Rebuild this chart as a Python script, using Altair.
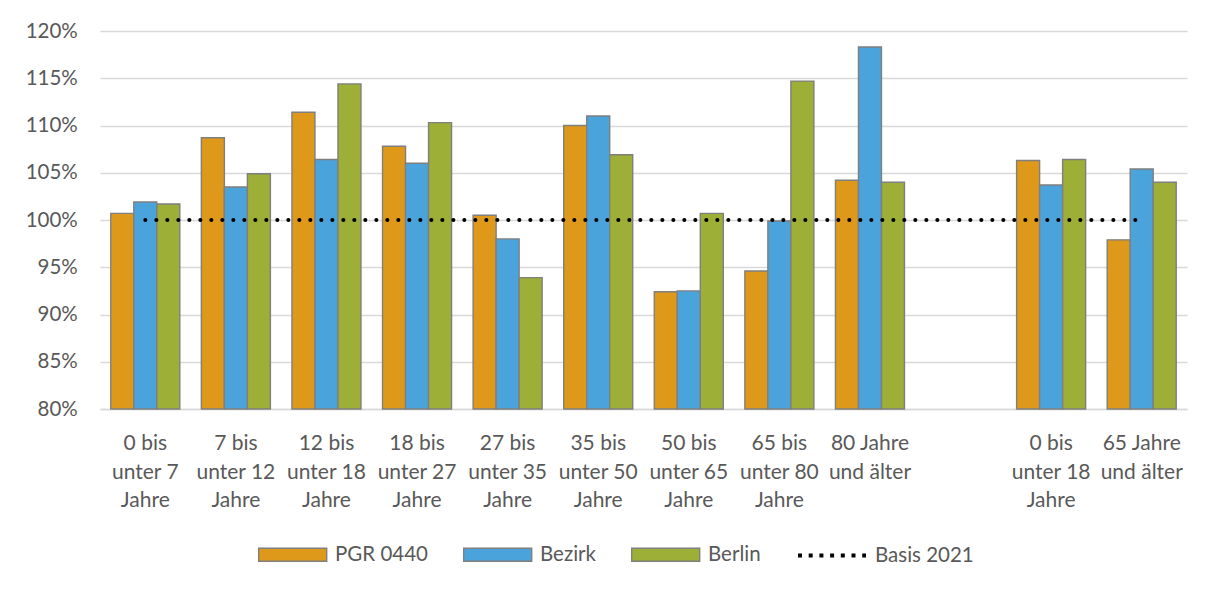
import altair as alt
import pandas as pd

categories = [
    "0 bis\nunter 7\nJahre", "7 bis\nunter 12\nJahre", "12 bis\nunter 18\nJahre",
    "18 bis\nunter 27\nJahre", "27 bis\nunter 35\nJahre", "35 bis\nunter 50\nJahre",
    "50 bis\nunter 65\nJahre", "65 bis\nunter 80\nJahre", "80 Jahre\nund älter",
    " ", "0 bis\nunter 18\nJahre", "65 Jahre\nund älter",
]
series = ["PGR 0440", "Bezirk", "Berlin"]
colors = ["#DE981A", "#4BA3DC", "#9DAF36"]
pgr = [100.7, 108.7, 111.4, 107.8, 100.5, 110.0, 92.4, 94.6, 104.2, None, 106.3, 97.9]
bezirk = [101.9, 103.5, 106.4, 106.0, 98.0, 111.0, 92.5, 99.9, 118.3, None, 103.7, 105.4]
berlin = [101.7, 104.9, 114.4, 110.3, 93.9, 106.9, 100.7, 114.7, 104.0, None, 106.4, 104.0]
basis_label = "Basis 2021"
basis_value = 100
y_ticks = [80, 85, 90, 95, 100, 105, 110, 115, 120]

FONT = "Lato"
TXT = "#595959"

rows = []
for i, c in enumerate(categories):
    for s, vals in zip(series, [pgr, bezirk, berlin]):
        if vals[i] is not None:
            rows.append({"cat": c, "series": s, "value": vals[i]})
bars_df = pd.DataFrame(rows)

line_cats = [c for c, v in zip(categories, pgr) if v is not None]
line_df = pd.DataFrame({
    "cat": line_cats,
    "idx": list(range(len(line_cats))),
    "series": [basis_label] * len(line_cats),
    "value": [basis_value] * len(line_cats),
})

x_enc = alt.X(
    "cat:N",
    scale=alt.Scale(domain=categories, paddingInner=0.238, paddingOuter=0.119),
    axis=alt.Axis(
        title=None, labelExpr="split(datum.label, '\\n')", labelAngle=0,
        labelFont=FONT, labelFontSize=21, labelColor=TXT, labelLineHeight=28.6,
        labelPadding=23.5, ticks=False, domain=True, domainColor="#D9D9D9",
        domainWidth=1.3, grid=False, labelOverlap=False, labelBound=False,
    ),
)
y_enc = alt.Y(
    "value:Q",
    scale=alt.Scale(domain=[80, 120], zero=False, nice=False),
    axis=alt.Axis(
        title=None, values=y_ticks, labelExpr="datum.value + '%'",
        domain=False, ticks=False, grid=True, gridColor="#D9D9D9", gridWidth=1.3,
        labelFont=FONT, labelFontSize=20.5, labelColor=TXT, labelPadding=22.7,
    ),
)

bars = alt.Chart(bars_df).mark_bar(stroke="#7F7F7F", strokeWidth=1.4).encode(
    x=x_enc,
    xOffset=alt.XOffset("series:N", scale=alt.Scale(domain=series)),
    y=y_enc,
    y2=alt.datum(80),
    color=alt.Color(
        "series:N",
        scale=alt.Scale(domain=series, range=colors),
        legend=alt.Legend(
            title=None, orient="none", legendX=157.7, legendY=488.5,
            direction="horizontal",
            symbolType="M-1,-0.19L1,-0.19L1,0.19L-1,0.19Z",
            symbolSize=4624, symbolStrokeColor="#7F7F7F", symbolStrokeWidth=1.4,
            symbolOpacity=1, labelFont=FONT, labelFontSize=20.5, labelColor=TXT,
            labelOffset=7.3, columnPadding=32, padding=0,
        ),
    ),
)

line = alt.Chart(line_df).mark_line(
    strokeWidth=4, strokeCap="round", strokeDash=[0.1, 10.9]
).encode(
    x=alt.X("cat:N"),
    y=alt.Y("value:Q"),
    order=alt.Order("idx:Q"),
    color=alt.Color(
        "series:N",
        scale=alt.Scale(domain=[basis_label], range=["#000000"]),
        legend=alt.Legend(
            title=None, orient="none", legendX=696, legendY=488.5,
            symbolType="stroke", symbolSize=4624, symbolStrokeWidth=4,
            symbolDash=[4, 6.7], labelFont=FONT, labelFontSize=20.5, labelColor=TXT,
            labelOffset=7, padding=0,
        ),
    ),
)

chart = (
    alt.layer(bars, line)
    .resolve_scale(color="independent")
    .properties(
        width=1087, height=378,
        autosize=alt.AutoSizeParams(type="none"),
        padding={"left": 92, "top": 23, "right": 18, "bottom": 165},
        background="#FFFFFF",
    )
    .configure_view(stroke=None)
)

chart.save("out.html", embed_options={"renderer": "svg", "actions": False})
